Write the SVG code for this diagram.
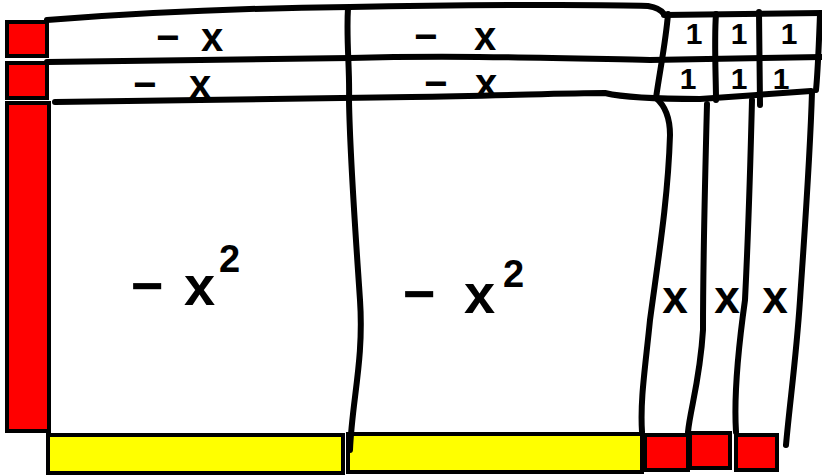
<svg xmlns="http://www.w3.org/2000/svg" width="822" height="476" viewBox="0 0 822 476">
<style>
.red{fill:#ff0000;stroke:#000;stroke-width:4}
.yel{fill:#ffff00;stroke:#000;stroke-width:4}
.ln{fill:none;stroke:#000;stroke-width:6;stroke-linecap:round;stroke-linejoin:round}
.lbl{font-family:"Liberation Sans",Arial,sans-serif;font-weight:bold;fill:#000}
.mx{font-size:40px}
.sq{font-size:56px}
.one{font-size:30px;text-anchor:middle}
.xs{font-size:46px;text-anchor:middle}
</style>
<rect width="822" height="476" fill="#fff"/>
<g id="tiles-left">
<rect id="unit-1" class="red" x="7" y="22" width="40" height="34"/>
<rect id="unit-2" class="red" x="7" y="63" width="40" height="35"/>
<rect id="xbar-left" class="red" x="7" y="103" width="42" height="328"/>
</g>
<g id="tiles-bottom">
<rect id="xbar-bottom-1" class="yel" x="48" y="435" width="295" height="38"/>
<rect id="xbar-bottom-2" class="yel" x="348" y="434" width="294" height="38"/>
<rect id="unit-b1" class="red" x="645" y="435" width="43" height="35"/>
<rect id="unit-b2" class="red" x="690" y="433" width="40" height="35"/>
<rect id="unit-b3" class="red" x="736" y="435" width="41" height="35"/>
</g>
<g id="connectors">
<path class="ln" d="M47,20 C150,12 250,8 350,7 C450,5 600,4 648,6 Q660,8 664,14"/>
<path class="ln" d="M664,15 L822,13"/>
<path class="ln" d="M47,62 L200,60 L350,58 C450,55 550,58 650,60 L822,57"/>
<path class="ln" d="M55,102 L200,100 L411,97 C500,96 560,93 605,93 Q630,99 700,99 L811,91"/>
<path class="ln" d="M348,8 C346,40 350,70 349,100 C350,160 356,240 360,300 C364,360 352,400 350,450"/>
<path class="ln" d="M668,14 C666,40 660,70 656,98"/>
<path class="ln" d="M716,14 C714,40 716,80 716,100"/>
<path class="ln" d="M759,12 L760,105"/>
<path class="ln" d="M820,14 C819,40 818,70 816,90"/>
<path class="ln" d="M656,98 Q670,110 670,135 C668,200 658,260 650,320 C645,370 640,400 642,432"/>
<path class="ln" d="M707,104 C705,180 703,260 703,330 C700,380 690,410 688,432"/>
<path class="ln" d="M752,100 C750,180 748,240 745,300 C738,350 734,400 736,432"/>
<path class="ln" d="M812,92 C810,160 804,240 800,300 C796,360 790,400 786,445"/>
</g>
<g id="cell-labels">
<text class="lbl mx" x="156 201" y="51">−x</text>
<text class="lbl mx" x="414 474" y="50">−x</text>
<text class="lbl mx" x="133 189" y="98">−x</text>
<text class="lbl mx" x="424 475" y="97">−x</text>
<text class="lbl sq" x="131 184" y="305">−x<tspan x="219" y="272" font-size="38">2</tspan></text>
<text class="lbl sq" x="403 464" y="313">−x<tspan x="503" y="287" font-size="38">2</tspan></text>
<text class="lbl one" x="694" y="44">1</text>
<text class="lbl one" x="739" y="44">1</text>
<text class="lbl one" x="789" y="44">1</text>
<text class="lbl one" x="688" y="89">1</text>
<text class="lbl one" x="739" y="89">1</text>
<text class="lbl one" x="781" y="89">1</text>
<text class="lbl xs" x="675" y="313">x</text>
<text class="lbl xs" x="727" y="313">x</text>
<text class="lbl xs" x="775" y="313">x</text>
</g>
</svg>
